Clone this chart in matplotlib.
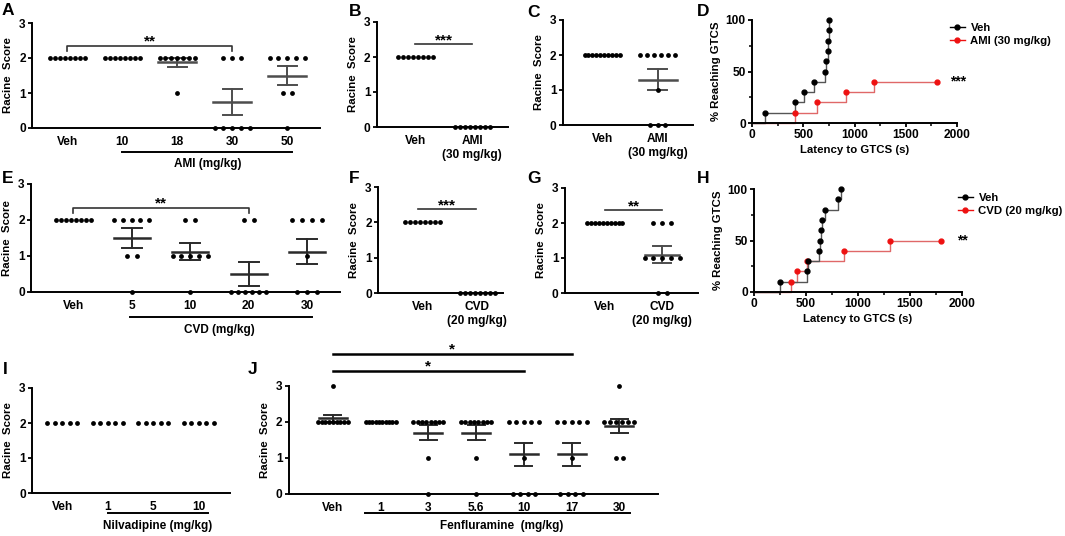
import matplotlib
matplotlib.use('Agg')
import matplotlib.pyplot as plt
import numpy as np
from matplotlib.transforms import blended_transform_factory
from matplotlib.lines import Line2D

plt.rcParams['font.family'] = ['Liberation Sans', 'DejaVu Sans']
plt.rcParams['font.weight'] = 'bold'
plt.rcParams['font.size'] = 9
plt.rcParams['axes.labelweight'] = 'bold'

# ---------------- DATA ----------------
a_cats = ['Veh', '10', '18', '30', '50']
a_scores = [[2, 2, 2, 2, 2, 2, 2, 2],
            [2, 2, 2, 2, 2, 2, 2, 2],
            [2, 2, 2, 2, 2, 2, 2, 1],
            [2, 2, 2, 0, 0, 0, 0, 0],
            [2, 2, 2, 2, 2, 1, 1, 0]]
a_group_label = 'AMI (mg/kg)'

b_cats = ['Veh', 'AMI\n(30 mg/kg)']
b_scores = [[2, 2, 2, 2, 2, 2, 2, 2],
            [0, 0, 0, 0, 0, 0, 0, 0]]

c_cats = ['Veh', 'AMI\n(30 mg/kg)']
c_scores = [[2, 2, 2, 2, 2, 2, 2, 2, 2, 2],
            [2, 2, 2, 2, 2, 2, 1, 0, 0, 0]]

d_n = 10
d_veh_times = [130, 420, 510, 605, 715, 722, 738, 742, 750, 755]
d_trt_times = [420, 635, 917, 1186]
d_trt_end = 1800
d_trt_label = 'AMI (30 mg/kg)'

e_cats = ['Veh', '5', '10', '20', '30']
e_scores = [[2, 2, 2, 2, 2, 2, 2, 2],
            [2, 2, 2, 2, 2, 1, 1, 0],
            [2, 2, 1, 1, 1, 1, 1, 0],
            [2, 2, 0, 0, 0, 0, 0, 0],
            [2, 2, 2, 2, 1, 0, 0, 0]]
e_group_label = 'CVD (mg/kg)'

f_cats = ['Veh', 'CVD\n(20 mg/kg)']
f_scores = [[2, 2, 2, 2, 2, 2, 2, 2],
            [0, 0, 0, 0, 0, 0, 0, 0]]

g_cats = ['Veh', 'CVD\n(20 mg/kg)']
g_scores = [[2, 2, 2, 2, 2, 2, 2, 2, 2, 2],
            [2, 2, 2, 1, 1, 1, 1, 1, 0, 0]]

h_n = 10
h_veh_times = [254, 511, 521, 627, 633, 640, 653, 682, 804, 833]
h_trt_times = [360, 415, 505, 868, 1309]
h_trt_end = 1800
h_trt_label = 'CVD (20 mg/kg)'

i_cats = ['Veh', '1', '5', '10']
i_scores = [[2, 2, 2, 2, 2],
            [2, 2, 2, 2, 2],
            [2, 2, 2, 2, 2],
            [2, 2, 2, 2, 2]]
i_group_label = 'Nilvadipine (mg/kg)'

j_cats = ['Veh', '1', '3', '5.6', '10', '17', '30']
j_scores = [[3, 2, 2, 2, 2, 2, 2, 2, 2, 2],
            [2, 2, 2, 2, 2, 2, 2, 2, 2, 2],
            [2, 2, 2, 2, 2, 2, 2, 2, 1, 0],
            [2, 2, 2, 2, 2, 2, 2, 2, 1, 0],
            [2, 2, 2, 2, 2, 1, 0, 0, 0, 0],
            [2, 2, 2, 2, 2, 1, 0, 0, 0, 0],
            [3, 2, 2, 2, 2, 2, 2, 1, 1]]
j_group_label = 'Fenfluramine  (mg/kg)'

# ---------------- LAYOUT ----------------
W, H = 1065, 536
fig = plt.figure(figsize=(W / 100, H / 100), dpi=100)

TICK_FS = 8.6
LABEL_FS = 8.2
GROUP_FS = 8.5


def add_ax(l, t, r, b):
    return fig.add_axes([l / W, 1 - b / H, (r - l) / W, (b - t) / H])


def fy(px):
    return 1 - px / H


def base_style(ax):
    for s in ['top', 'right']:
        ax.spines[s].set_visible(False)
    for s in ['left', 'bottom']:
        ax.spines[s].set_linewidth(1.4)
        ax.spines[s].set_color('black')


def scatter_panel(ax, cats, groups, xlim, span=35, maxsp=9, ebcolor='#4d4d4d',
                  mean_hw=19, cap_hw=9.5):
    base_style(ax)
    ax.set_xlim(*xlim)
    ax.set_ylim(0, 3)
    bbox = ax.get_position()
    ppu = bbox.width * W / (xlim[1] - xlim[0])
    for i, g in enumerate(groups):
        vals = np.array(g, dtype=float)
        for lev in np.unique(vals):
            n = int(np.sum(vals == lev))
            sp = min(maxsp, span / (n - 1)) if n > 1 else 0
            offs = (np.arange(n) - (n - 1) / 2) * sp / ppu
            ax.scatter(i + offs, np.full(n, lev), s=12, color='black',
                       linewidths=0, zorder=3, clip_on=False)
        m = vals.mean()
        sem = vals.std(ddof=1) / np.sqrt(len(vals))
        if sem > 0:
            mh = mean_hw / ppu
            ch = cap_hw / ppu
            ax.plot([i - mh, i + mh], [m, m], color=ebcolor, lw=1.8, zorder=2)
            ax.plot([i, i], [m - sem, m + sem], color=ebcolor, lw=1.4, zorder=2)
            ax.plot([i - ch, i + ch], [m + sem, m + sem], color=ebcolor, lw=1.4, zorder=2)
            ax.plot([i - ch, i + ch], [m - sem, m - sem], color=ebcolor, lw=1.4, zorder=2)
    ax.set_yticks([0, 1, 2, 3])
    ax.set_xticks(range(len(cats)))
    ax.set_xticklabels(cats, linespacing=1.15)
    ax.tick_params(axis='x', length=0, pad=6, labelsize=TICK_FS)
    ax.tick_params(axis='y', length=3, width=1.3, pad=1.5, labelsize=TICK_FS)
    ax.set_ylabel('Racine  Score', fontsize=LABEL_FS, labelpad=4)


def group_line(ax, x0, x1, py_line, xc, py_text, label):
    tr = blended_transform_factory(ax.transData, fig.transFigure)
    ax.plot([x0, x1], [fy(py_line), fy(py_line)], transform=tr, color='black',
            lw=1.4, clip_on=False)
    ax.text(xc, fy(py_text), label, transform=tr, ha='center', va='center',
            fontsize=GROUP_FS)


def bracket(ax, x0, x1, y, stars, drop=None):
    if drop is None:
        ax.plot([x0, x1], [y, y], color='#333333', lw=1.2, clip_on=False)
    else:
        ax.plot([x0, x0, x1, x1], [y - drop, y, y, y - drop], color='#333333',
                lw=1.2, clip_on=False)
    ax.text((x0 + x1) / 2, y + 0.0, stars, ha='center', va='baseline',
            fontsize=11)


def km_panel(ax, n, veh_t, trt_t, trt_end, trt_label, stars, star_x, leg_xy):
    base_style(ax)
    veh_p = 100 * np.arange(1, len(veh_t) + 1) / n
    trt_p = 100 * np.arange(1, len(trt_t) + 1) / n
    ax.step([0] + list(veh_t), [0] + list(veh_p), where='post', color='#555555',
            lw=1.0, zorder=2, clip_on=False)
    ax.plot(veh_t, veh_p, 'o', color='black', ms=3.5, zorder=4, clip_on=False)
    tx = [0] + list(trt_t) + [trt_end]
    ty = [0] + list(trt_p) + [trt_p[-1]]
    ax.step(tx, ty, where='post', color='#e06868', lw=1.0, zorder=1, clip_on=False)
    ax.plot(list(trt_t) + [trt_end], list(trt_p) + [trt_p[-1]], 'o', color='#ee1111',
            ms=3.5, zorder=3, clip_on=False)
    ax.set_xlim(0, 2000)
    ax.set_ylim(0, 100)
    ax.set_xticks([0, 500, 1000, 1500, 2000])
    ax.set_xticks([250, 750, 1250, 1750], minor=True)
    ax.set_yticks([0, 50, 100])
    ax.set_yticks([25, 75], minor=True)
    ax.tick_params(which='major', length=3, width=1.3, pad=1.5, labelsize=TICK_FS)
    ax.tick_params(which='minor', length=2, width=1.1)
    ax.set_xlabel('Latency to GTCS (s)', fontsize=LABEL_FS, labelpad=3)
    ax.set_ylabel('% Reaching GTCS', fontsize=LABEL_FS, labelpad=3)
    ax.text(star_x, trt_p[-1], stars, ha='left', va='center', fontsize=10,
            clip_on=False)
    handles = [Line2D([0], [0], color='black', lw=1, marker='o', ms=3.5),
               Line2D([0], [0], color='#ee1111', lw=1, marker='o', ms=3.5)]
    ax.legend(handles, ['Veh', trt_label], loc='upper left',
              bbox_to_anchor=(leg_xy[0] / W, fy(leg_xy[1])),
              bbox_transform=fig.transFigure, frameon=False, fontsize=8.2,
              handlelength=1.3, handletextpad=0.5, labelspacing=0.3,
              borderaxespad=0, borderpad=0)


# Panel A
axA = add_ax(32, 23, 320, 128)
scatter_panel(axA, a_cats, a_scores, (-0.64, 4.6))
bracket(axA, 0, 3, 2.35, '**', drop=0.16)
group_line(axA, 1.0, 4.09, 152, 2.55, 164, a_group_label)

# Panel B
axB = add_ax(377, 22, 508, 127)
scatter_panel(axB, b_cats, b_scores, (-0.67, 1.63))
bracket(axB, 0, 1, 2.37, '***')

# Panel C
axC = add_ax(563, 20, 693, 125)
scatter_panel(axC, c_cats, c_scores, (-0.7, 1.63), maxsp=7.5)

# Panel D
axD = add_ax(752, 20, 957, 123)
km_panel(axD, d_n, d_veh_times, d_trt_times, d_trt_end, d_trt_label, '***', 1930,
         (950, 23))

# Panel E
axE = add_ax(31, 184, 340, 292)
scatter_panel(axE, e_cats, e_scores, (-0.72, 4.56), maxsp=10, ebcolor='#2a2a2a',
              mean_hw=18, cap_hw=10)
bracket(axE, 0, 3, 2.34, '**', drop=0.15)
group_line(axE, 0.97, 4.09, 317, 2.5, 330, e_group_label)

# Panel F
axF = add_ax(378, 187, 503, 293)
scatter_panel(axF, f_cats, f_scores, (-0.8, 1.47))
bracket(axF, -0.07, 0.98, 2.37, '***')

# Panel G
axG = add_ax(565, 188, 698, 293)
scatter_panel(axG, g_cats, g_scores, (-0.7, 1.63), maxsp=9, mean_hw=17, cap_hw=9)
bracket(axG, 0, 1, 2.36, '**')

# Panel H
axH = add_ax(754, 189, 962, 292)
km_panel(axH, h_n, h_veh_times, h_trt_times, h_trt_end, h_trt_label, '**', 1952,
         (958, 193))

# Panel I
axI = add_ax(32, 388, 230, 493)
scatter_panel(axI, i_cats, i_scores, (-0.66, 3.68), span=30, maxsp=7.5)
group_line(axI, 1.0, 3.2, 513, 2.1, 526, i_group_label)

# Panel J
axJ = add_ax(289, 386, 658, 494)
scatter_panel(axJ, j_cats, j_scores, (-0.92, 6.81), span=30, maxsp=7.5,
              ebcolor='#2a2a2a', mean_hw=14, cap_hw=8.5)
group_line(axJ, 0.67, 6.23, 513, 3.54, 526, j_group_label)
trJ = blended_transform_factory(axJ.transData, fig.transFigure)
for xe, py in [(5, 354), (4, 371)]:
    axJ.plot([0, xe], [fy(py), fy(py)], transform=trJ, color='black', lw=1.8,
             clip_on=False)
    axJ.text(xe / 2, fy(py - 1), '*', transform=trJ, ha='center', va='baseline',
             fontsize=11)

# Panel letters
for letter, x, y in [('A', 2, 3), ('B', 349, 4), ('C', 527, 5), ('D', 697, 4),
                     ('E', 2, 171), ('F', 349, 171), ('G', 527, 171), ('H', 697, 171),
                     ('I', 3, 362), ('J', 248, 362)]:
    fig.text(x / W, fy(y), letter, ha='left', va='top', fontsize=12.5,
             fontweight='bold')

fig.savefig('out.png', dpi=100)
